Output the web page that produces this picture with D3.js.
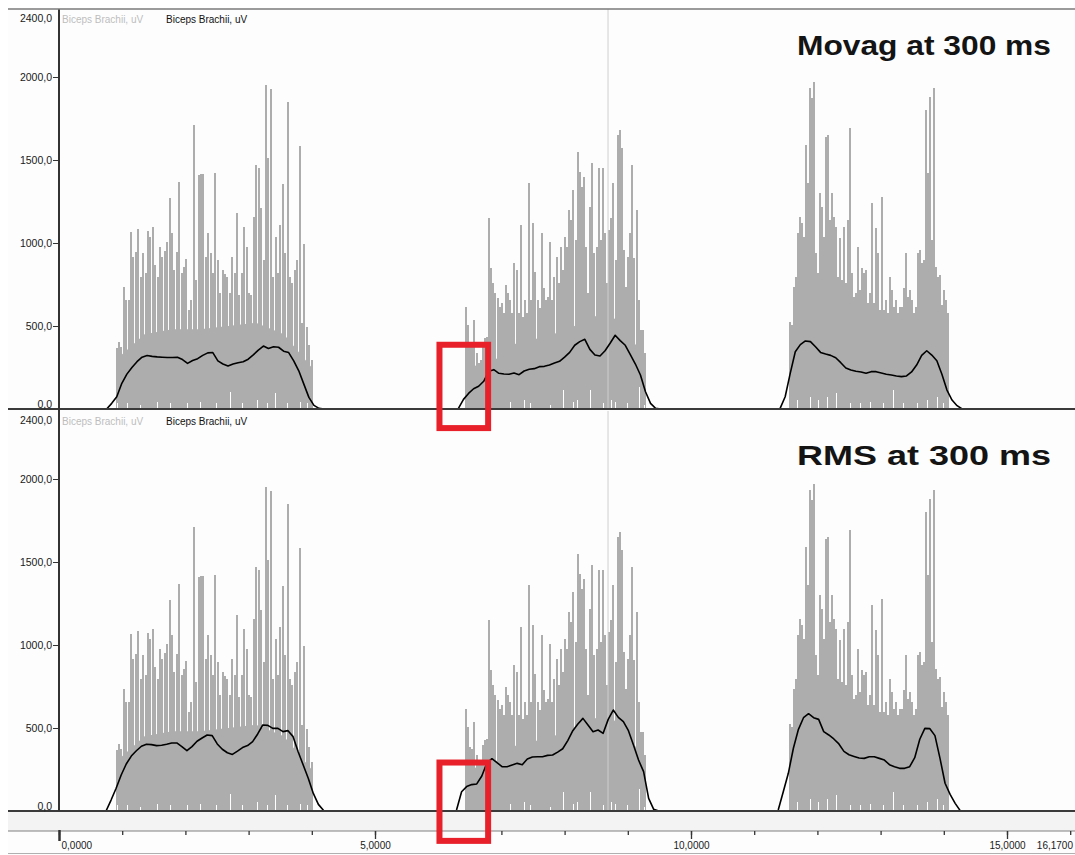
<!DOCTYPE html>
<html>
<head>
<meta charset="utf-8">
<script src="https://cdn.jsdelivr.net/npm/d3@7"></script>
<style>
  body { margin: 0; background: #ffffff; }
  svg { display: block; }
  text { font-family: "Liberation Sans", Arial, Helvetica, sans-serif; }
</style>
</head>
<body>
<svg id="chart" width="1075" height="855"></svg>
<script>
// ---- axes -------------------------------------------------------------
const timeTicks = [0, 5, 10, 15];          // labelled time ticks (s)
const timeEnd = 16.17;                      // record length (s)
const ampTicks = [0, 500, 1000, 1500, 2000]; // amplitude ticks (uV)
const ampMax = 2400;
const panelTitles = ["Movag at 300 ms", "RMS at 300 ms"];
const channelName = "Biceps Brachii, uV";

// ---- raw rectified EMG, three contractions (uV), evenly sampled over each span
const rawSpan1 = [0.912, 3.998];
const raw1 = [365,406,376,737,657,657,1064,918,948,1082, 797,938,817,1072,1038,1098,867,797,978,918,
  954,1008,1269,1058,837,948,1369,817,857,902, 596,657,1711,777,1410,1416,1414,918,1058,938,
  817,1420,898,697,837,811,797,697,914,817, 1179,687,817,1098,978,697,687,1159,1470,1450,
  1209,898,1952,1510,1926,797,1038,817,1108,1355, 938,1851,797,757,837,898,1584,516,994,496,
  386,295];
const rawSpan2 = [6.44, 9.272];
const raw2 = [616,506,386,375,536,335,275,295,396,426, 436,1149,847,757,697,667,616,637,576,747,
  697,657,576,877,837,576,1108,556,657,576, 1359,657,1118,827,657,606,1058,727,657,677,
  1008,657,797,918,757,978,837,1038,978,1199, 1139,1319,1018,1550,1430,1339,1400,978,697,1219,
  1480,938,978,1450,1018,1450,1058,757,1078,1149, 1359,898,1651,1681,1570,958,737,918,1058,1470,
  908,1199,657,476,476,335];
const rawSpan3 = [11.566, 14.07];
const raw3 = [526,506,737,797,1058,1159,1118,1038,1590,1359, 1932,1871,1972,938,817,1299,1219,1038,1641,1651,
  1139,1299,1159,1098,797,1028,777,1098,757,1139, 1691,817,677,697,978,717,847,817,837,637,
  697,1239,637,1088,938,596,1279,596,657,576, 797,717,616,657,576,616,616,727,938,677,
  717,657,576,616,938,958,878,898,1801,1420, 1882,1018,1932,857,797,807,627,717,657,576];

// dense core of each burst (uV), evenly spaced over the same spans
const core1 = [300,450,480,480,500,520,450,250];
const core2 = [250,280,400,430,480,560,540,300];
const core3 = [400,600,480,420,410,410,520,380];

// near-zero samples inside the bursts: [time s, uV]
const lows1 = [[0.912,34],[1.07,34],[1.28,24],[1.545,44],[1.757,34],[2.02,34],[2.23,44],[2.49,34],
  [2.706,104],[2.89,34],[3.13,54],[3.29,34],[3.42,94],[3.60,38],[3.81,44],[3.92,34]];
const lows2 = [[6.82,34],[7.14,44],[7.35,54],[7.45,34],[7.77,24],[7.98,114],[8.14,44],[8.19,54],
  [8.40,114],[8.61,34],[8.74,54],[8.80,44],[8.98,34],[9.17,135],[9.25,24]];
const lows3 = [[11.67,54],[11.88,74],[12.01,54],[12.15,74],[12.30,94],[12.52,34],[12.67,34],[12.83,44],
  [13.04,34],[13.20,114],[13.36,34],[13.57,34],[13.73,54],[13.89,74],[13.99,34]];

// ---- processed envelopes (uV), one value every envStep seconds from each start
const envStep = 0.08;
const movag1Start = 0.754;
const movag1 = [0,34,74,155,210,250,285,312,322,317, 314,312,310,310,312,298,275,292,303,323,
  338,340,290,271,259,271,279,285,300,326, 355,379,365,375,372,348,340,290,230,150, 70,22,4,0];
const movag2Start = 6.32;
const movag2 = [4,58,94,122,137,167,227,237,215,211, 209,217,207,229,239,243,255,257,265,277,
  287,313,341,384,406,420,359,325,319,351, 396,444,412,384,327,271,205,104,34,4, 0];
const movag3Start = 11.41;
const movag3 = [4,74,215,345,388,410,406,375,341,331, 323,309,279,247,235,227,223,215,225,225,
  217,209,205,199,195,199,223,265,323,351, 325,291,209,114,54,20,0];

const rms1Start = 0.744;
const rms1 = [0,66,137,217,283,331,363,390,402,400, 394,396,402,410,410,388,363,388,420,440,
  458,454,404,372,351,341,361,382,394,418, 464,518,516,498,498,478,484,448,357,277, 197,106,40,4];
const rms2Start = 6.29;
const rms2 = [6,116,147,159,163,211,289,315,291,267, 267,277,287,279,313,325,327,327,335,337,
  355,375,424,484,524,558,518,478,488,468, 552,608,564,538,484,398,307,237,76,10, 0];
const rms3Start = 11.38;
const rms3 = [6,116,227,378,492,562,586,562,552,478, 458,434,404,359,339,329,319,317,327,327,
  317,307,279,267,257,257,267,321,432,498, 496,454,317,167,100,46,2];

// cursor and highlighted onset window
const cursorTime = 8.687;
const onsetWindow = [6.02, 6.79];
const onsetAmpMovag = [-115, 387];
const onsetAmpRms = [-180, 292];

// ---- drawing ------------------------------------------------------------
const W = 1075, H = 855;
const frameLeft = 8;
const traceGrey = "#adadad";
const svg = d3.select("#chart");

const locale = d3.formatLocale({ decimal: ",", thousands: "", grouping: [3], currency: ["", ""] });
const fmtTime = locale.format(".4f");
const fmtAmp = locale.format(".1f");

const x = d3.scaleLinear().domain([0, timeEnd]).range([59, 59 + 63.2 * timeEnd]);
const plotRight = W;

const bursts = [
  { span: rawSpan1, raw: raw1, core: core1, lows: lows1 },
  { span: rawSpan2, raw: raw2, core: core2, lows: lows2 },
  { span: rawSpan3, raw: raw3, core: core3, lows: lows3 }
];

const panels = [
  { title: panelTitles[0], titleBase: 55, y: d3.scaleLinear([0, ampMax], [409, 10.6]),
    env: [[movag1Start, movag1], [movag2Start, movag2], [movag3Start, movag3]], onset: onsetAmpMovag, top: 9 },
  { title: panelTitles[1], titleBase: 465, y: d3.scaleLinear([0, ampMax], [811, 412.6]),
    env: [[rms1Start, rms1], [rms2Start, rms2], [rms3Start, rms3]], onset: onsetAmpRms, top: 411 }
];

const spread = (span, n) => d3.scaleLinear().domain([0, n - 1]).range(span);

// backdrop
svg.append("rect").attr("x", frameLeft).attr("y", 9).attr("width", W - frameLeft).attr("height", H - 9)
  .attr("fill", "#fdfdfd");

panels.forEach((p, pi) => {
  const y = p.y;
  const g = svg.append("g");
  const clipId = "clip" + pi;
  svg.append("clipPath").attr("id", clipId).append("rect")
    .attr("x", x(0)).attr("y", p.top).attr("width", plotRight - x(0)).attr("height", y(0) - p.top);
  const plot = g.append("g").attr("clip-path", `url(#${clipId})`);

  bursts.forEach(b => {
    const tc = spread(b.span, b.core.length);
    plot.append("path")
      .datum(b.core)
      .attr("fill", traceGrey)
      .attr("d", d3.area().x((d, i) => x(tc(i))).y0(y(0)).y1(d => y(d)));
    const tr = spread(b.span, b.raw.length);
    plot.append("g").attr("shape-rendering", "crispEdges")
      .selectAll("line").data(b.raw).join("line")
      .attr("x1", (d, i) => Math.round(x(tr(i)))).attr("x2", (d, i) => Math.round(x(tr(i))))
      .attr("y1", y(0)).attr("y2", d => y(d))
      .attr("stroke", traceGrey).attr("stroke-width", 2);
    plot.append("g").attr("shape-rendering", "crispEdges")
      .selectAll("line").data(b.lows).join("line")
      .attr("x1", d => Math.round(x(d[0])) + 0.5).attr("x2", d => Math.round(x(d[0])) + 0.5)
      .attr("y1", y(0)).attr("y2", d => y(d[1]))
      .attr("stroke", "#ffffff").attr("stroke-width", 1);
  });

  // cursor
  plot.append("line")
    .attr("x1", x(cursorTime)).attr("x2", x(cursorTime))
    .attr("y1", p.top).attr("y2", y(0))
    .attr("stroke", "#cfcfcf").attr("stroke-width", 1);

  // processed envelope
  p.env.forEach(([start, vals]) => {
    plot.append("path")
      .datum(vals)
      .attr("fill", "none").attr("stroke", "#000").attr("stroke-width", 1.6)
      .attr("stroke-linejoin", "round")
      .attr("d", d3.line().x((d, i) => x(start + i * envStep)).y(d => y(d)));
  });

  // baseline
  g.append("line").attr("x1", frameLeft).attr("x2", W).attr("y1", y(0)).attr("y2", y(0))
    .attr("stroke", "#3a3a3a").attr("stroke-width", 2);

  // amplitude axis
  const ay = g.append("g").attr("transform", `translate(${x(0)},0)`)
    .call(d3.axisLeft(y).tickValues(ampTicks).tickSize(6).tickPadding(1).tickFormat(fmtAmp));
  ay.select(".domain").remove();
  ay.selectAll(".tick line").attr("stroke", "#333");
  ay.selectAll(".tick text").attr("font-size", 10.5).attr("fill", "#1a1a1a")
    .attr("font-family", '"Liberation Sans", Arial, sans-serif')
    .attr("dy", d => d === 0 ? "-0.1em" : "0.32em");
  ay.selectAll(".tick").filter(d => d === 0).select("line").remove();
  g.append("text").attr("x", x(0) - 7).attr("y", y(ampMax) + 11)
    .attr("text-anchor", "end").attr("font-size", 10.5).attr("fill", "#1a1a1a")
    .text(fmtAmp(ampMax));

  // channel legend
  g.append("text").attr("x", x(0) + 3).attr("y", y(ampMax) + 12)
    .attr("font-size", 10).attr("fill", "#bdbdbd").text(channelName);
  g.append("text").attr("x", x(0) + 107).attr("y", y(ampMax) + 12)
    .attr("font-size", 10).attr("fill", "#111").text(channelName);

  // panel title
  g.append("text").attr("x", 797).attr("y", p.titleBase)
    .attr("font-size", 28).attr("font-weight", "bold").attr("fill", "#141414")
    .attr("textLength", 254).attr("lengthAdjust", "spacingAndGlyphs")
    .text(p.title);
});

// vertical amplitude-axis line
svg.append("line").attr("x1", x(0)).attr("x2", x(0)).attr("y1", 9).attr("y2", 811)
  .attr("stroke", "#333").attr("stroke-width", 2);
// top border
svg.append("line").attr("x1", frameLeft).attr("x2", W).attr("y1", 9).attr("y2", 9)
  .attr("stroke", "#7a7a7a").attr("stroke-width", 1.5);

// time axis band
svg.append("rect").attr("x", frameLeft).attr("y", 812).attr("width", W - frameLeft).attr("height", 19)
  .attr("fill", "#f3f3f3");
svg.append("line").attr("x1", frameLeft).attr("x2", W).attr("y1", 831).attr("y2", 831)
  .attr("stroke", "#808080").attr("stroke-width", 1.2);
svg.append("line").attr("x1", frameLeft).attr("x2", W).attr("y1", 853.5).attr("y2", 853.5)
  .attr("stroke", "#b0b0b0").attr("stroke-width", 1);

const ax = svg.append("g").attr("transform", "translate(0,831)");
const minor = ax.append("g").call(d3.axisBottom(x).tickValues(d3.range(0, Math.floor(timeEnd) + 1)).tickSize(4).tickFormat(""));
minor.select(".domain").remove();
minor.selectAll(".tick line").attr("stroke", "#333").attr("stroke-width", 1.3);
const major = ax.append("g").call(d3.axisBottom(x).tickValues(timeTicks).tickSize(8).tickPadding(3).tickFormat(fmtTime));
major.select(".domain").remove();
major.selectAll(".tick line").attr("stroke", "#333").attr("stroke-width", 1.3);
major.selectAll(".tick text").attr("font-size", 10).attr("fill", "#1a1a1a")
  .attr("font-family", '"Liberation Sans", Arial, sans-serif');
major.selectAll(".tick").filter(d => d === 0).select("text").attr("text-anchor", "start").attr("dx", 2);
major.selectAll(".tick").filter(d => d === 0).select("line").attr("y1", -1).attr("y2", 10).attr("stroke-width", 2.5);
ax.append("text").attr("x", Math.min(x(timeEnd), W - 2)).attr("y", 11).attr("dy", "0.71em")
  .attr("text-anchor", "end").attr("font-size", 10).attr("fill", "#1a1a1a").text(fmtTime(timeEnd));

// highlighted onset windows
panels.forEach(p => {
  svg.append("rect")
    .attr("x", x(onsetWindow[0])).attr("y", p.y(p.onset[1]))
    .attr("width", x(onsetWindow[1]) - x(onsetWindow[0]))
    .attr("height", p.y(p.onset[0]) - p.y(p.onset[1]))
    .attr("fill", "none").attr("stroke", "#e8202a").attr("stroke-width", 6);
});
</script>
</body>
</html>
